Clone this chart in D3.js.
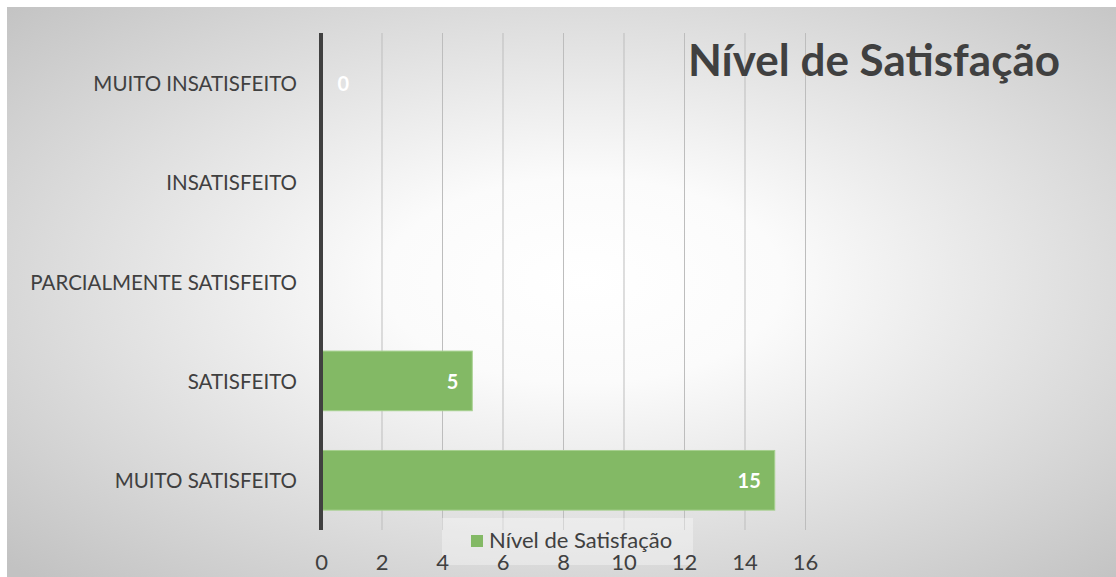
<!DOCTYPE html>
<html>
<head>
<meta charset="utf-8">
<script src="https://cdn.jsdelivr.net/npm/d3@7"></script>
<style>
  html, body { margin: 0; padding: 0; background: #fff; }
  svg { display: block; }
</style>
</head>
<body>
<svg id="chart"></svg>
<script>
// Data
const categories = ["MUITO INSATISFEITO", "INSATISFEITO", "PARCIALMENTE SATISFEITO", "SATISFEITO", "MUITO SATISFEITO"]
const values = [0, null, null, 5, 15]
const xTicks = [0, 2, 4, 6, 8, 10, 12, 14, 16]
const seriesName = "Nível de Satisfação"
const chartTitle = "Nível de Satisfação"

const WIDTH = 1116
const HEIGHT = 577
const FONT = "Lato, 'Open Sans', sans-serif"
const TEXT = "#404040"
const BAR = "#83b965"

const svg = d3.select("#chart").attr("width", WIDTH).attr("height", HEIGHT)

// radial background like the office chart area fill
const defs = svg.append("defs")
const grad = defs.append("radialGradient").attr("id", "bg")
  .attr("cx", "52%").attr("cy", "48%").attr("r", "72%")
grad.append("stop").attr("offset", "0%").attr("stop-color", "#ffffff")
grad.append("stop").attr("offset", "25%").attr("stop-color", "#fbfbfb")
grad.append("stop").attr("offset", "100%").attr("stop-color", "#c2c2c2")

svg.append("rect").attr("x", 7).attr("y", 7)
  .attr("width", WIDTH - 7).attr("height", HEIGHT - 7)
  .attr("fill", "url(#bg)")

const plot = { left: 321, right: 805, top: 33, bottom: 530 }

const x = d3.scaleLinear().domain([0, 16]).range([plot.left, plot.right])
const y = d3.scaleBand().domain(categories)
  .range([plot.top, plot.bottom]).paddingInner(0.4).paddingOuter(0.2)

// vertical gridlines
const grid = svg.append("g")
  .attr("transform", `translate(0,${plot.bottom})`)
  .call(d3.axisBottom(x).tickValues(xTicks).tickSize(-(plot.bottom - plot.top)).tickFormat(""))
grid.select(".domain").remove()
grid.selectAll(".tick line").attr("stroke", "#bdbdbd").attr("stroke-width", 1)

// bars
const rows = categories.map((c, i) => ({ cat: c, value: values[i] }))
svg.append("g").selectAll("rect")
  .data(rows.filter(d => d.value !== null))
  .join("rect")
  .attr("x", x(0))
  .attr("y", d => y(d.cat))
  .attr("width", d => x(d.value) - x(0))
  .attr("height", y.bandwidth())
  .attr("fill", BAR)
  .attr("stroke", "#a6d08f")
  .attr("stroke-width", 1)

// category axis line (thick dark)
svg.append("line")
  .attr("x1", x(0)).attr("x2", x(0))
  .attr("y1", plot.top).attr("y2", plot.bottom)
  .attr("stroke", "#404040").attr("stroke-width", 4)

// category labels
svg.append("g").selectAll("text")
  .data(categories)
  .join("text")
  .attr("x", 297)
  .attr("y", d => y(d) + y.bandwidth() / 2)
  .attr("text-anchor", "end")
  .attr("dominant-baseline", "central")
  .attr("font-family", FONT)
  .attr("font-size", 20.5)
  .attr("fill", TEXT)
  .text(d => d)

// value labels (inside end, white bold)
svg.append("g").selectAll("text")
  .data(rows.filter(d => d.value !== null))
  .join("text")
  .attr("x", d => Math.max(x(d.value) - 14, x(0) + 28))
  .attr("y", d => y(d.cat) + y.bandwidth() / 2)
  .attr("text-anchor", "end")
  .attr("dominant-baseline", "central")
  .attr("font-family", FONT)
  .attr("font-weight", "bold")
  .attr("font-size", 20)
  .attr("fill", "#ffffff")
  .text(d => d.value)

// legend (semi-transparent box overlapping the axis)
const legend = svg.append("g")
legend.append("rect")
  .attr("x", 442).attr("y", 518).attr("width", 251).attr("height", 47)
  .attr("fill", "#ffffff").attr("fill-opacity", 0.35)
legend.append("rect")
  .attr("x", 471).attr("y", 535).attr("width", 12).attr("height", 12)
  .attr("fill", BAR)
legend.append("text")
  .attr("x", 489).attr("y", 548)
  .attr("font-family", FONT).attr("font-size", 22)
  .attr("fill", TEXT)
  .text(seriesName)

// value axis labels
const xAxis = svg.append("g")
  .attr("transform", `translate(0,${plot.bottom})`)
  .call(d3.axisBottom(x).tickValues(xTicks).tickSize(0).tickPadding(24))
xAxis.select(".domain").remove()
xAxis.selectAll("text")
  .attr("font-family", FONT).attr("font-size", 22)
  .attr("fill", TEXT)

// title
svg.append("text")
  .attr("x", 1060).attr("y", 76)
  .attr("text-anchor", "end")
  .attr("font-family", FONT)
  .attr("font-weight", "bold")
  .attr("font-size", 44)
  .attr("fill", TEXT)
  .text(chartTitle)
</script>
</body>
</html>
